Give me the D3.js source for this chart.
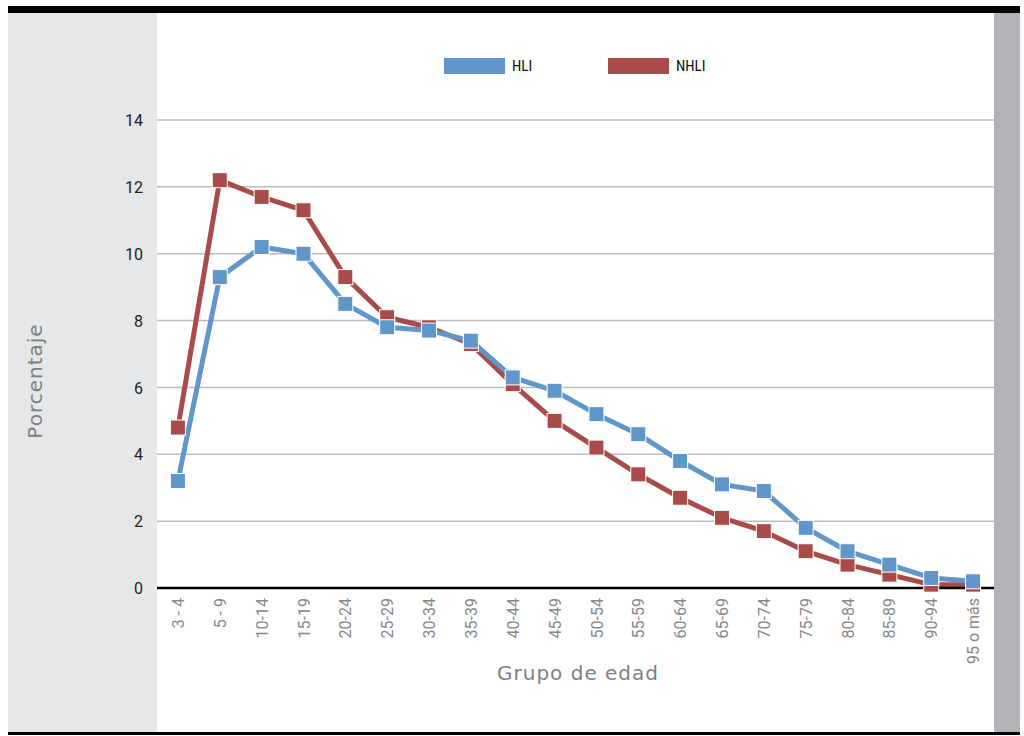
<!DOCTYPE html>
<html><head><meta charset="utf-8">
<script src="https://cdn.jsdelivr.net/npm/d3@7"></script>
<style>body{margin:0;background:#fff}svg{display:block}</style>
</head><body>
<script>
const categories = ["3 - 4","5 - 9","10-14","15-19","20-24","25-29","30-34","35-39","40-44","45-49","50-54","55-59","60-64","65-69","70-74","75-79","80-84","85-89","90-94","95 o más"];
const hli  = [3.2,9.3,10.2,10.0,8.5,7.8,7.7,7.4,6.3,5.9,5.2,4.6,3.8,3.1,2.9,1.8,1.1,0.7,0.3,0.2];
const nhli = [4.8,12.2,11.7,11.3,9.3,8.1,7.8,7.3,6.1,5.0,4.2,3.4,2.7,2.1,1.7,1.1,0.7,0.4,0.1,0.1];
const yTicks = [0,2,4,6,8,10,12,14];
const seriesNames = ["HLI","NHLI"];
const colors = {HLI:"#5F97CB", NHLI:"#A94B48"};

const W=1024,H=736;
const svg=d3.select("body").append("svg").attr("width",W).attr("height",H);
// panels
svg.append("rect").attr("x",8).attr("y",13).attr("width",149).attr("height",720).attr("fill","#E6E7E9");
svg.append("rect").attr("x",994).attr("y",13).attr("width",26).attr("height",720).attr("fill","#B1B3B6");
svg.append("rect").attr("x",8).attr("y",6).attr("width",1012).attr("height",7).attr("fill","#000");
svg.append("rect").attr("x",8).attr("y",732).attr("width",1012).attr("height",3).attr("fill","#000");

const x=d3.scalePoint().domain(categories).range([157,994]).padding(0.5);
const y=d3.scaleLinear().domain([0,14]).range([588,120]);

// gridlines
const g=svg.append("g");
g.selectAll("line.grid").data(yTicks.filter(d=>d>0)).join("line")
 .attr("x1",157).attr("x2",994).attr("y1",d=>y(d)).attr("y2",d=>y(d))
 .attr("stroke","#BDBDBD").attr("stroke-width",1.5);
// y axis labels
const yAxis=d3.axisLeft(y).tickValues(yTicks).tickSize(0).tickPadding(0);
const ya=svg.append("g").attr("transform","translate(143,0)").call(yAxis);
ya.select(".domain").remove();
ya.selectAll("text").attr("font-family","Roboto, sans-serif").attr("font-size",16).attr("fill","#222").attr("dy","0.35em");

// x axis labels
const xAxis=d3.axisBottom(x).tickSize(0).tickPadding(0);
const xa=svg.append("g").attr("transform","translate(0,598)").call(xAxis);
xa.select(".domain").remove();
xa.selectAll("text").attr("font-family","Roboto, sans-serif").attr("font-size",16).attr("fill","#888")
 .attr("text-anchor","end").attr("transform","rotate(-90)").attr("x",0).attr("y",0).attr("dy","0.35em");

const line=d3.line().x((d,i)=>x(categories[i])).y(d=>y(d));
const data={HLI:hli,NHLI:nhli};
["NHLI","HLI"].forEach(name=>{
  svg.append("path").datum(data[name]).attr("d",line).attr("fill","none")
   .attr("stroke",colors[name]).attr("stroke-width",5).attr("stroke-linejoin","round");
});
// zero line
svg.append("line").attr("x1",157).attr("x2",994).attr("y1",y(0)).attr("y2",y(0)).attr("stroke","#000").attr("stroke-width",2.5);
["NHLI","HLI"].forEach(name=>{
  svg.append("g").selectAll("rect").data(data[name]).join("rect")
   .attr("x",(d,i)=>x(categories[i])-7.5).attr("y",d=>y(d)-7.5).attr("width",15).attr("height",15)
   .attr("fill",colors[name]).attr("stroke","#fff").attr("stroke-width",1);
});

// legend
const leg=[{n:"HLI",x:444},{n:"NHLI",x:608}];
leg.forEach(l=>{
  svg.append("rect").attr("x",l.x).attr("y",58).attr("width",61).attr("height",16).attr("fill",colors[l.n]);
  svg.append("text").attr("x",l.x+68).attr("y",66).attr("dy","0.35em").text(l.n)
   .attr("font-family","Liberation Sans Narrow, Arial Narrow, Roboto Condensed, sans-serif").attr("font-size",15).attr("fill","#111");
});

// titles
svg.append("text").attr("x",578).attr("y",680).attr("text-anchor","middle").text("Grupo de edad")
 .attr("font-family","DejaVu Sans, sans-serif").attr("font-size",20).attr("letter-spacing",1).attr("fill","#808080");
svg.append("text").attr("transform","translate(42,381) rotate(-90)").attr("text-anchor","middle").text("Porcentaje")
 .attr("font-family","DejaVu Sans, sans-serif").attr("font-size",20).attr("letter-spacing",1).attr("fill","#808080");
</script>
</body></html>
